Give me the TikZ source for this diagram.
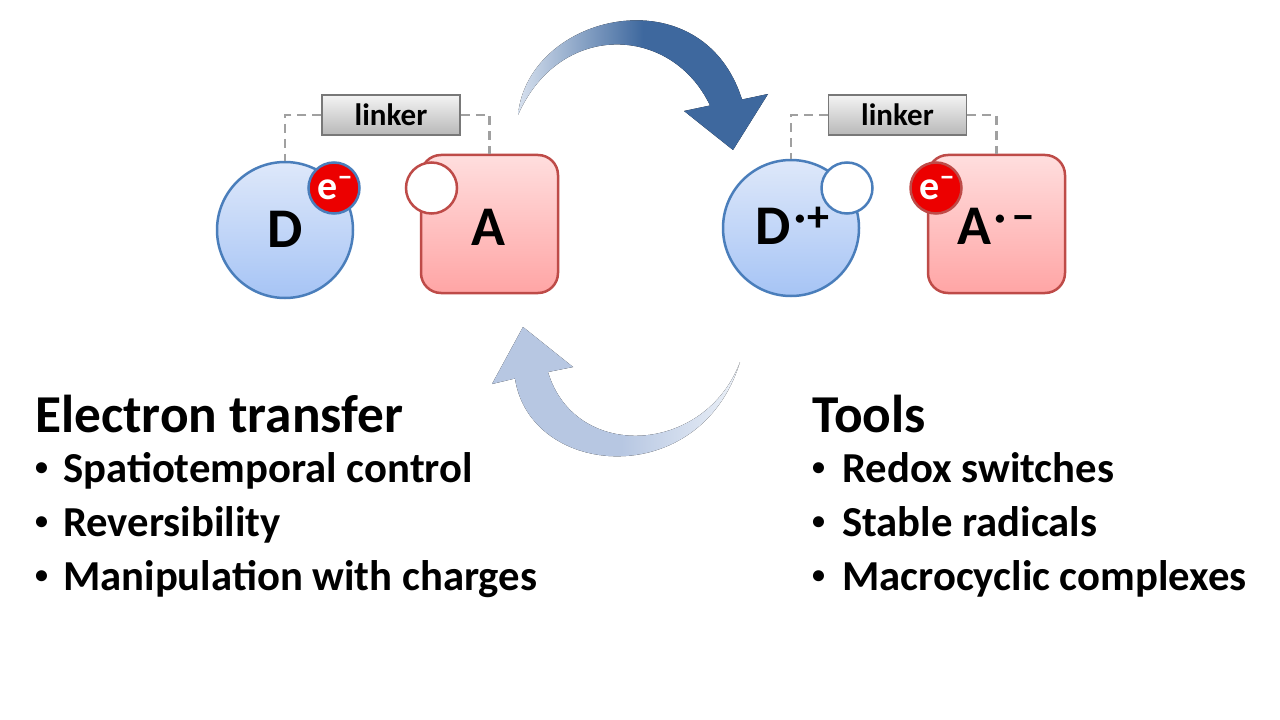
\documentclass[tikz,border=0pt]{standalone}
\usepackage{fontspec}
\setmainfont{Carlito}
\definecolor{dline}{RGB}{74,126,187}
\definecolor{dtop}{RGB}{222,232,250}
\definecolor{dbot}{RGB}{166,196,245}
\definecolor{aline}{RGB}{190,75,72}
\definecolor{atop}{RGB}{255,222,222}
\definecolor{abot}{RGB}{255,165,165}
\definecolor{ered}{RGB}{236,0,0}
\definecolor{ltop}{RGB}{244,244,244}
\definecolor{lbot}{RGB}{184,184,184}
\definecolor{lline}{RGB}{120,120,120}
\definecolor{dash}{RGB}{160,160,160}
\definecolor{taL}{RGB}{214,224,238}
\definecolor{taD}{RGB}{62,104,158}
\definecolor{baC}{RGB}{183,199,226}
\definecolor{baL}{RGB}{236,241,248}
\pgfdeclarehorizontalshading{toparrowsh}{100bp}{color(0bp)=(taL); color(25bp)=(taL); color(50bp)=(taD); color(100bp)=(taD)}
\pgfdeclarehorizontalshading{botarrowsh}{100bp}{color(0bp)=(baC); color(25bp)=(baC); color(51bp)=(baC); color(75bp)=(baL); color(100bp)=(baL)}
\tikzset{
  dcirc/.style={circle, draw=dline, line width=2.5bp, top color=dtop, bottom color=dbot, minimum size=136bp, inner sep=0},
  abox/.style={rectangle, rounded corners=20bp, draw=aline, line width=2.5bp, top color=atop, bottom color=abot, minimum width=137bp, minimum height=138bp, inner sep=0},
  ecirc/.style={circle, fill=ered, line width=2.5bp, minimum size=51bp, inner sep=0},
  hole/.style={circle, fill=white, line width=2.5bp, minimum size=51bp, inner sep=0},
  linkerbox/.style={rectangle, draw=lline, line width=1.5bp, top color=ltop, bottom color=lbot, minimum width=138bp, minimum height=40bp, inner sep=0, font=\bfseries\fontsize{31bp}{31bp}\selectfont},
  dashline/.style={draw=dash, line width=2.5bp, dash pattern=on 9bp off 6bp},
  biglabel/.style={anchor=base, inner sep=0, font=\bfseries\fontsize{56bp}{56bp}\selectfont},
  elabel/.style={anchor=base, inner sep=0, text=white, font=\bfseries\fontsize{40bp}{40bp}\selectfont},
  titletext/.style={anchor=base west, inner sep=0, font=\bfseries\fontsize{53.3bp}{60bp}\selectfont},
  itemtext/.style={anchor=base west, inner sep=0, font=\bfseries\fontsize{42.7bp}{48bp}\selectfont},
  bullettext/.style={anchor=base west, inner sep=0, font=\bfseries\fontsize{26bp}{26bp}\selectfont}
}
\newcommand{\supgrp}[1]{\raisebox{13bp}{\fontsize{44bp}{44bp}\selectfont #1}}
\newcommand{\esup}{\raisebox{13bp}{\fontsize{28bp}{28bp}\selectfont −}}
\newcommand{\bul}{\raisebox{7bp}{•}}
\begin{document}
\begin{tikzpicture}[x=1bp,y=-1bp]
\useasboundingbox[fill=white] (0,0) rectangle (1280,720);

% top arrow
\fill[shading=toparrowsh] (518,115) .. controls (528,13) and (702,-27) .. (742,99.5) -- (768,94) -- (733,150) -- (684,111) -- (710,105.5) .. controls (672,25) and (560,20) .. (518,115) -- cycle;
% bottom arrow
\fill[shading=botarrowsh] (523,327) -- (573,367) -- (548,372) .. controls (575,462) and (705,455) .. (740,362) .. controls (700,492) and (530,478) .. (515,378.5) -- (492,384) -- cycle;

% left pair
\node[linkerbox] (L1) at (391,115) {linker};
\node[dcirc] (D1) at (285,230) {};
\node[abox] (A1) at (489.5,224) {};
\draw[dashline] (L1.west) -| (D1.north);
\draw[dashline] (L1.east) -| (A1.north);
\node[ecirc, draw=dline] (e1) at (334,188) {};
\node[hole, draw=aline] (h1) at (431.5,188) {};
\node[biglabel] (tD1) at (285,248) {D};
\node[biglabel] (tA1) at (488.5,246) {A};
\node[elabel] (te1) at (335,200) {e\esup};

% right pair
\node[linkerbox] (L2) at (897.5,115) {linker};
\node[dcirc] (D2) at (791,228) {};
\node[abox] (A2) at (996.5,224) {};
\draw[dashline] (L2.west) -| (D2.north);
\draw[dashline] (L2.east) -| (A2.north);
\node[hole, draw=dline] (h2) at (847,188) {};
\node[ecirc, draw=aline] (e2) at (936,188) {};
\node[biglabel] (tD2) at (792,245) {D\hspace{4bp}\supgrp{·\hspace{1bp}+}};
\node[biglabel] (tA2) at (996,245) {A\hspace{3bp}\supgrp{·\hspace{7bp}−}};
\node[elabel] (te2) at (937,200) {e\esup};

% left text
\node[titletext] (t1) at (35,432) {Electron transfer};
\node[bullettext] (b1) at (35,482) {\bul};
\node[itemtext] (i1) at (63,482) {Spatiotemporal control};
\node[bullettext] (b2) at (35,536) {\bul};
\node[itemtext] (i2) at (63,536) {Reversibility};
\node[bullettext] (b3) at (35,590) {\bul};
\node[itemtext] (i3) at (63,590) {Manipulation with charges};

% right text
\node[titletext] (t2) at (812,432) {Tools};
\node[bullettext] (b4) at (812,482) {\bul};
\node[itemtext] (i4) at (842,482) {Redox switches};
\node[bullettext] (b5) at (812,536) {\bul};
\node[itemtext] (i5) at (842,536) {Stable radicals};
\node[bullettext] (b6) at (812,590) {\bul};
\node[itemtext] (i6) at (842,590) {Macrocyclic complexes};
\end{tikzpicture}
\end{document}
